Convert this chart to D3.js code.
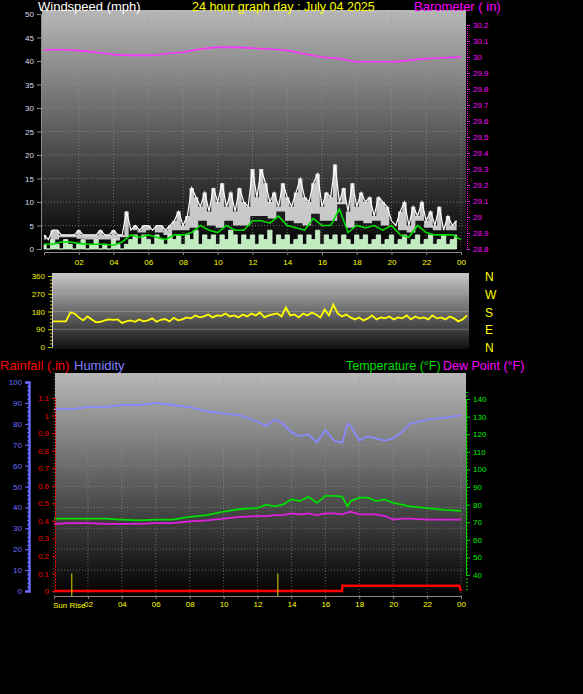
<!DOCTYPE html>
<html><head><meta charset="utf-8">
<script src="https://cdn.jsdelivr.net/npm/d3@7/dist/d3.min.js"></script>
<style>body{margin:0;background:#000}svg{display:block}text{font-family:Arial,"Liberation Sans",sans-serif}</style>
</head><body><svg id="c" width="583" height="694"></svg>
<script>
const hourLabels=["02","04","06","08","10","12","14","16","18","20","22","00"];
const gust=[3,2,4,4,3,3,3,3,4,3,3,3,3,4,3,3,4,3,3,8,4,5,4,5,5,4,5,5,4,5,6,8,5,7,13,11,9,12,8,13,10,14,9,12,8,13,10,9,17,11,17,14,10,12,9,14,11,9,12,15,11,10,14,16,9,12,11,18,10,13,8,14,9,12,10,11,7,11,10,9,6,5,8,10,5,9,7,10,6,8,5,9,4,7,5,6];
const windAvg=[1,0,2,1,0,2,1,0,1,2,0,1,2,0,1,0,2,1,0,1,2,3,1,3,2,1,3,2,1,3,2,3,1,3,2,4,1,3,2,3,1,3,2,4,3,1,3,2,3,1,3,2,4,1,3,2,3,1,2,3,1,3,2,4,1,3,2,3,1,3,2,1,3,2,3,1,2,3,1,2,3,1,2,3,1,2,3,1,2,3,1,2,3,1,2,3];
const windTen=[1,1,1.5,1.5,1.2,1,1,1,0.8,1.5,3,2.5,3,2.5,2,3,3,3.5,5,4,3.5,5,4,4,6,6,5.5,7,5,4.5,4,6.5,5,5,8.5,3.5,5,4.5,5,4,5,3,2.5,5,3.5,3,3,3,2];
const baroHours=[0,1,2,3,4,5,6,7,8,9,10,11,12,13,14,15,16,17,18,19,20,21,22,23,24];
const baro=[30.045,30.045,30.04,30.03,30.015,30.01,30.01,30.02,30.03,30.05,30.06,30.06,30.055,30.05,30.04,30.02,30.0,29.99,29.97,29.97,29.97,29.98,29.99,29.995,30.0];
const windDir=[130,130,130,130,175,170,150,135,155,140,125,128,135,140,138,140,122,130,135,128,140,130,135,145,128,138,142,130,148,135,140,150,145,160,150,155,165,150,160,158,170,155,160,150,165,155,170,160,175,150,160,165,170,155,200,160,165,150,170,160,175,165,150,190,160,215,170,155,165,150,140,150,135,145,160,140,150,145,155,140,150,145,160,140,155,145,150,140,160,145,150,140,155,145,130,140,160];
const thHours=[0,1,2,3,4,5,6,7,8,9,10,11,12,12.5,13,13.5,14,14.5,15,15.5,16,16.5,17,17.3,17.5,18,18.5,19,19.5,20,20.5,21,22,23,24];
const humidity=[87,87,88,88,89,89,90,89,88,86,85,84,81,79,82,80,76,74,75,71,77,72,71,80,79,72,74,73,72,73,76,80,82,83,84];
const temperature=[72,72,72,72,71.5,71,71.5,71.5,73,74,76,77.5,78,80,79,80,83,82,84.5,81,85,85,84.5,79,82,84,84,82,83,81,80,79,78,77,76.5];
const dewpoint=[69,69.5,69.5,69,69,69,69.5,69.5,70.5,71,72,73,73.5,73.5,74,74,75,74.5,75,74,75,75,74.5,75.5,76,74.5,74.5,74.5,73.5,71.5,72,72,71.5,71.5,71.5];
const rainHours=[0,16.99,17,23.9,24];
const rain=[0,0,0.03,0.03,0];
const sunEvents=[1.05,13.2];

const svg=d3.select("#c");
const defs=svg.append("defs");
function grad(id,c1,c2){const g=defs.append("linearGradient").attr("id",id).attr("x1",0).attr("x2",0).attr("y1",0).attr("y2",1);
g.append("stop").attr("offset","0%").attr("stop-color",c1);g.append("stop").attr("offset","100%").attr("stop-color",c2);}
grad("g1","#b8b8b8","#000");grad("g2","#c8c8c8","#101010");grad("g3","#b8b8b8","#000");
const gi=d3.range(96).map(i=>i/4), di=d3.range(97).map(i=>i/4), ti=d3.range(49).map(i=>i/2);

// ---- top panel
const x1=d3.scaleLinear([0,24],[44,461]);
const yW=d3.scaleLinear([0,50],[249,14]);
const yB=d3.scaleLinear([28.8,30.2],[249,25]);
svg.append("rect").attr("x",42).attr("y",10).attr("width",424).attr("height",242).attr("fill","url(#g1)");
const grid=(sel,xs,ys,x0,x1_,y0,y1_)=>{
 xs.forEach(v=>sel.append("line").attr("x1",v).attr("x2",v).attr("y1",y0).attr("y2",y1_).attr("stroke","#999").attr("stroke-opacity",0.6).attr("stroke-dasharray","1,2"));
 ys.forEach(v=>sel.append("line").attr("x1",x0).attr("x2",x1_).attr("y1",v).attr("y2",v).attr("stroke","#999").attr("stroke-opacity",0.6).attr("stroke-dasharray","1,2"));};
grid(svg,d3.range(2,25,2).map(x1),d3.range(5,51,5).map(yW),42,466,10,252);
svg.append("path").datum(gust).attr("fill","#e8e8e8").attr("fill-opacity",0.85)
 .attr("d",d3.area().x((d,i)=>x1(gi[i])).y0((d,i)=>yW(Math.min(d,windTen[Math.floor(i/2)]+1))).y1(d=>yW(d)).curve(d3.curveStep));
svg.append("path").datum(gust).attr("fill","none").attr("stroke","#fff").attr("stroke-width",1.2)
 .attr("d",d3.line().x((d,i)=>x1(gi[i])).y(d=>yW(d)));
svg.append("path").datum(windAvg).attr("fill","#c0ecc0").attr("stroke","#d8f8d8").attr("stroke-width",0.8)
 .attr("d",d3.area().x((d,i)=>x1(gi[i])).y0(yW(0)).y1(d=>yW(d)).curve(d3.curveStep));
svg.append("path").datum(windTen).attr("fill","none").attr("stroke","#00dd00").attr("stroke-width",1.6)
 .attr("d",d3.line().x((d,i)=>x1(ti[i])).y(d=>yW(d)));
svg.append("path").datum(baro).attr("fill","none").attr("stroke","#ff33ff").attr("stroke-width",1.6)
 .attr("d",d3.line().x((d,i)=>x1(baroHours[i])).y(d=>yB(d)).curve(d3.curveMonotoneX));
const ax=svg.append("g").attr("transform","translate(41,0)").call(d3.axisLeft(yW).tickValues(d3.range(0,51,5)).tickSize(4));
ax.selectAll("text").attr("fill","#dde").attr("font-size",8);ax.selectAll("line,path").attr("stroke","#888");
const ab=svg.append("g").attr("transform","translate(467,0)").call(d3.axisRight(yB).tickValues(d3.range(28.8,30.21,0.1)).tickFormat(d3.format(".1~f")).tickSize(3));
ab.selectAll("text").attr("fill","#f0f").attr("font-size",8);ab.selectAll("line,path").attr("stroke","#f0f");ab.select("path").attr("stroke-dasharray","1,1");
const axx=svg.append("g").attr("transform","translate(0,252)").call(d3.axisBottom(x1).tickValues(d3.range(2,25,2)).tickFormat((d,i)=>hourLabels[i]).tickSize(3));
axx.selectAll("text").attr("fill","#ff0").attr("font-size",8).attr("dy","0.9em");axx.selectAll("line,path").attr("stroke","#888");
svg.append("text").attr("x",38).attr("y",11).attr("fill","#fff").attr("font-size",13).text("Windspeed (mph)");
svg.append("text").attr("x",192).attr("y",11).attr("fill","#ff0").attr("font-size",12.5).text("24 hour graph day : July 04 2025");
svg.append("text").attr("x",414).attr("y",11).attr("fill","#f0f").attr("font-size",13).text("Barometer ( in)");

// ---- wind direction
const x2=d3.scaleLinear([0,24],[53,467]);
const yD=d3.scaleLinear([0,360],[347,276]);
svg.append("rect").attr("x",52).attr("y",273).attr("width",417).attr("height",76).attr("fill","url(#g2)");
[90,180,270].forEach(v=>svg.append("line").attr("x1",52).attr("x2",469).attr("y1",yD(v)).attr("y2",yD(v)).attr("stroke","#aaa").attr("stroke-opacity",0.5));
svg.append("path").datum(windDir).attr("fill","none").attr("stroke","#ffff00").attr("stroke-width",1.8)
 .attr("d",d3.line().x((d,i)=>x2(di[i])).y(d=>yD(d)));
const ad=svg.append("g").attr("transform","translate(52,0)").call(d3.axisLeft(yD).tickValues([0,90,180,270,360]).tickSize(4));
ad.selectAll("text").attr("fill","#ee0").attr("font-size",8);ad.selectAll("line").attr("stroke","#cc0");ad.select("path").attr("stroke","#ccc");
const adm=svg.append("g").attr("transform","translate(52,0)").call(d3.axisLeft(yD).tickValues(d3.range(0,361,18)).tickFormat("").tickSize(2));
adm.selectAll("line").attr("stroke","#cc0");adm.select("path").remove();
["N","W","S","E","N"].forEach((t,i)=>svg.append("text").attr("x",485).attr("y",yD(360-i*90)+5).attr("fill","#ff0").attr("font-size",12).text(t));

// ---- bottom panel
const x3=d3.scaleLinear([0,24],[54,461]);
const yH=d3.scaleLinear([0,100],[591,382]);
const yR=d3.scaleLinear([0,1.1],[591,398]);
const yT=d3.scaleLinear([40,140],[575,399]);
svg.append("rect").attr("x",55).attr("y",373).attr("width",411).attr("height",223).attr("fill","url(#g3)");
grid(svg,d3.range(0,25,2).map(x3),d3.range(10,101,10).map(yH),55,466,373,596);
svg.append("path").datum(rain).attr("fill","none").attr("stroke","#f00").attr("stroke-width",2.5)
 .attr("d",d3.line().x((d,i)=>x3(rainHours[i])).y(d=>yR(d)));
sunEvents.forEach(h=>svg.append("line").attr("x1",x3(h)).attr("x2",x3(h)).attr("y1",yR(0.1)).attr("y2",596).attr("stroke","#dd0").attr("stroke-width",1));
svg.append("path").datum(humidity).attr("fill","none").attr("stroke","#8888ff").attr("stroke-width",1.8)
 .attr("d",d3.line().x((d,i)=>x3(thHours[i])).y(d=>yH(d)));
svg.append("path").datum(temperature).attr("fill","none").attr("stroke","#00dd00").attr("stroke-width",1.8)
 .attr("d",d3.line().x((d,i)=>x3(thHours[i])).y(d=>yT(d)));
svg.append("path").datum(dewpoint).attr("fill","none").attr("stroke","#e020e0").attr("stroke-width",1.8)
 .attr("d",d3.line().x((d,i)=>x3(thHours[i])).y(d=>yT(d)));
const ah=svg.append("g").attr("transform","translate(29,0)").call(d3.axisLeft(yH).tickValues(d3.range(0,101,10)).tickSize(4));
ah.selectAll("text").attr("fill","#6b6bff").attr("font-size",8);ah.selectAll("line,path").attr("stroke","#6b6bff");ah.select("path").attr("stroke-width",2.5);
const ahm=svg.append("g").attr("transform","translate(29,0)").call(d3.axisLeft(yH).tickValues(d3.range(0,101,2)).tickFormat("").tickSize(2));
ahm.selectAll("line").attr("stroke","#6b6bff");ahm.select("path").remove();
const ar=svg.append("g").attr("transform","translate(55,0)").call(d3.axisLeft(yR).tickValues(d3.range(0,1.11,0.1)).tickFormat(d=>d<0.01?"0":d3.format(".1~f")(d)).tickSize(3));
ar.selectAll("text").attr("fill","#e00").attr("font-size",8);ar.selectAll("line,path").attr("stroke","#e00");ar.select("path").attr("stroke-dasharray","2,1");
const at=svg.append("g").attr("transform","translate(466,0)").call(d3.axisRight(yT).tickValues(d3.range(40,141,10)).tickSize(4));
at.selectAll("text").attr("fill","#0e0").attr("font-size",8);at.selectAll("line,path").attr("stroke","#0c0");
const atm=svg.append("g").attr("transform","translate(466,0)").call(d3.axisRight(yT).tickValues(d3.range(32,146,2)).tickFormat("").tickSize(2));
atm.selectAll("line").attr("stroke","#0c0");atm.select("path").remove();
const ax3=svg.append("g").attr("transform","translate(0,596)").call(d3.axisBottom(x3).tickValues(d3.range(2,25,2)).tickFormat((d,i)=>hourLabels[i]).tickSize(3));
ax3.selectAll("text").attr("fill","#ff0").attr("font-size",8).attr("dy","0.6em");ax3.selectAll("line,path").attr("stroke","#888");
svg.append("text").attr("x",53).attr("y",608).attr("fill","#ff0").attr("font-size",8).text("Sun Rise");
svg.append("text").attr("x",0).attr("y",370).attr("fill","#f00").attr("font-size",13).text("Rainfall (.in)");
svg.append("text").attr("x",74).attr("y",370).attr("fill","#8080ff").attr("font-size",13).text("Humidity");
svg.append("text").attr("x",346).attr("y",370).attr("fill","#0d0").attr("font-size",12.5).text("Temperature (°F)");
svg.append("text").attr("x",443).attr("y",370).attr("fill","#f0f").attr("font-size",12.5).text("Dew Point (°F)");
</script></body></html>
